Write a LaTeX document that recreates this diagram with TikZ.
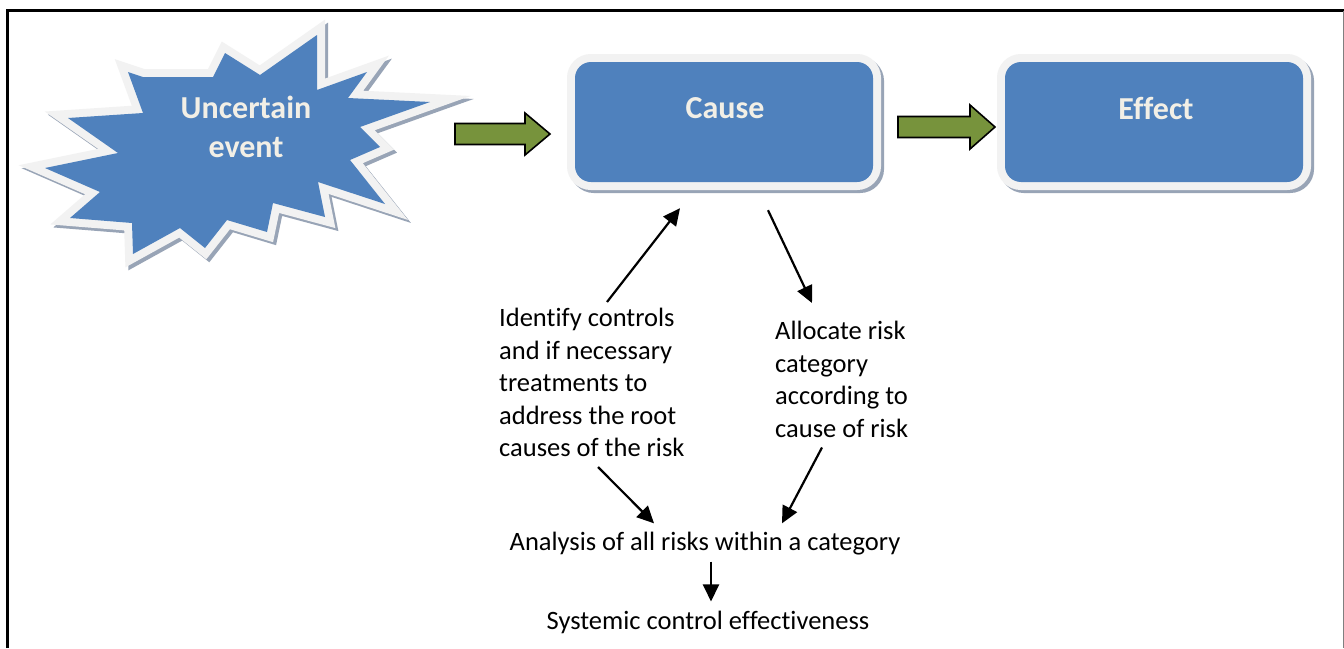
\documentclass[tikz,border=0pt]{standalone}
\usepackage{fontspec}
\setmainfont{Carlito}[Ligatures=NoCommon]
\usetikzlibrary{arrows.meta,calc}
\definecolor{boxblue}{HTML}{4F81BD}
\definecolor{cream}{HTML}{F2EFE6}
\definecolor{rim}{HTML}{F2F2F2}
\definecolor{shade}{HTML}{98A4B6}
\definecolor{olive}{HTML}{77933C}
\begin{document}
\begin{tikzpicture}[x=1pt,y=-1pt,
  burst/.style={insert path={(128,72) -- (143,77) -- (213,77) -- (225,53) -- (260,75) -- (317,35) -- (317,90) -- (367,72) -- (348,98) -- (430,102) -- (360,127) -- (380,147) -- (350,160) -- (385,204) -- (318,182) -- (325,217) -- (273,203) -- (267,232) -- (227,220) -- (205,248) -- (180,228) -- (133,254) -- (132,223) -- (70,218) -- (100,192) -- (45,168) -- (118,153) -- (68,118) -- (143,113) -- cycle}},
  bluebox/.style={rounded corners=16pt, fill=boxblue, minimum width=298pt, minimum height=120pt,
    preaction={draw=shade, line width=16pt, transform canvas={shift={(3pt,-3pt)}}},
    preaction={draw=rim, line width=16pt}},
  boxtext/.style={text=cream, font=\fontsize{32}{39}\selectfont\bfseries, align=center},
  plain/.style={font=\fontsize{26.5}{32.5}\selectfont, inner sep=0pt},
  garrow/.style={draw=black, line width=1.6pt, fill=olive, line join=miter},
  conn/.style={draw=black, line width=2.2pt, -{Triangle[length=17pt,width=16pt]}},
]
\useasboundingbox (0,0) rectangle (1344,648);
\fill[white] (0,0) rectangle (1344,648);
% frame
\draw[black, line width=2.2pt] (7.5,648) -- (7.5,10.5) -- (1343.5,10.5);
\draw[gray, line width=2pt] (1343.5,10.5) -- (1343.5,648);

% starburst
\path[draw=shade, line width=16pt, line join=miter, transform canvas={shift={(3pt,-3pt)}}, burst];
\path[draw=rim, line width=16pt, line join=miter, burst];
\path[fill=boxblue, burst];
\node[boxtext] (event) at (246,127) {Uncertain\\event};

% boxes
\node[bluebox] (cause) at (724,122) {};
\node[boxtext] (causet) at (725,108) {Cause};
\node[bluebox] (effect) at (1154,122) {};
\node[boxtext] (effectt) at (1156,108) {Effect};

% green arrows
\newcommand{\garrowpath}[4]{% start, end, shaft half, head half
  \draw[garrow] let \p1=(#1), \p2=(#2) in
   (\x1,\y1+#3) -- (\x2-25pt,\y1+#3) -- (\x2-25pt,\y1+#4) -- (\x2,\y1)
   -- (\x2-25pt,\y1-#4) -- (\x2-25pt,\y1-#3) -- (\x1,\y1-#3) -- cycle;}
\coordinate (g1s) at (455,134);
\coordinate (g1e) at (550,134);
\garrowpath{g1s}{g1e}{10.5pt}{21pt}
\coordinate (g2s) at (898,127);
\coordinate (g2e) at (995,127);
\garrowpath{g2s}{g2e}{10.5pt}{22pt}

% texts
\node[plain, align=left, anchor=north west] (identify) at (499,308)
  {Identify controls\\and if necessary\\treatments to\\address the root\\causes of the risk};
\node[plain, align=left, anchor=north west] (allocate) at (775,321)
  {Allocate risk\\category\\according to\\cause of risk};
\node[plain] (analysis) at (705,544) {Analysis of all risks within a category};
\node[plain] (systemic) at (708,622) {Systemic control effectiveness};

% connectors
\draw[conn] ($(identify.north west)+(108,-6)$) -- ($(cause.south)+(-44,26)$);
\draw[conn] ($(cause.south)+(44,28)$) -- ($(allocate.north west)+(37,-18)$);
\draw[conn] ($(identify.south west)+(99,10)$) -- ($(analysis.north)+(-51,-9)$);
\draw[conn] ($(allocate.south west)+(47,10)$) -- ($(analysis.north)+(77,-9)$);
\draw[conn] ($(analysis.south)+(6,6)$) -- ($(systemic.north)+(3,-9)$);
\end{tikzpicture}
\end{document}
